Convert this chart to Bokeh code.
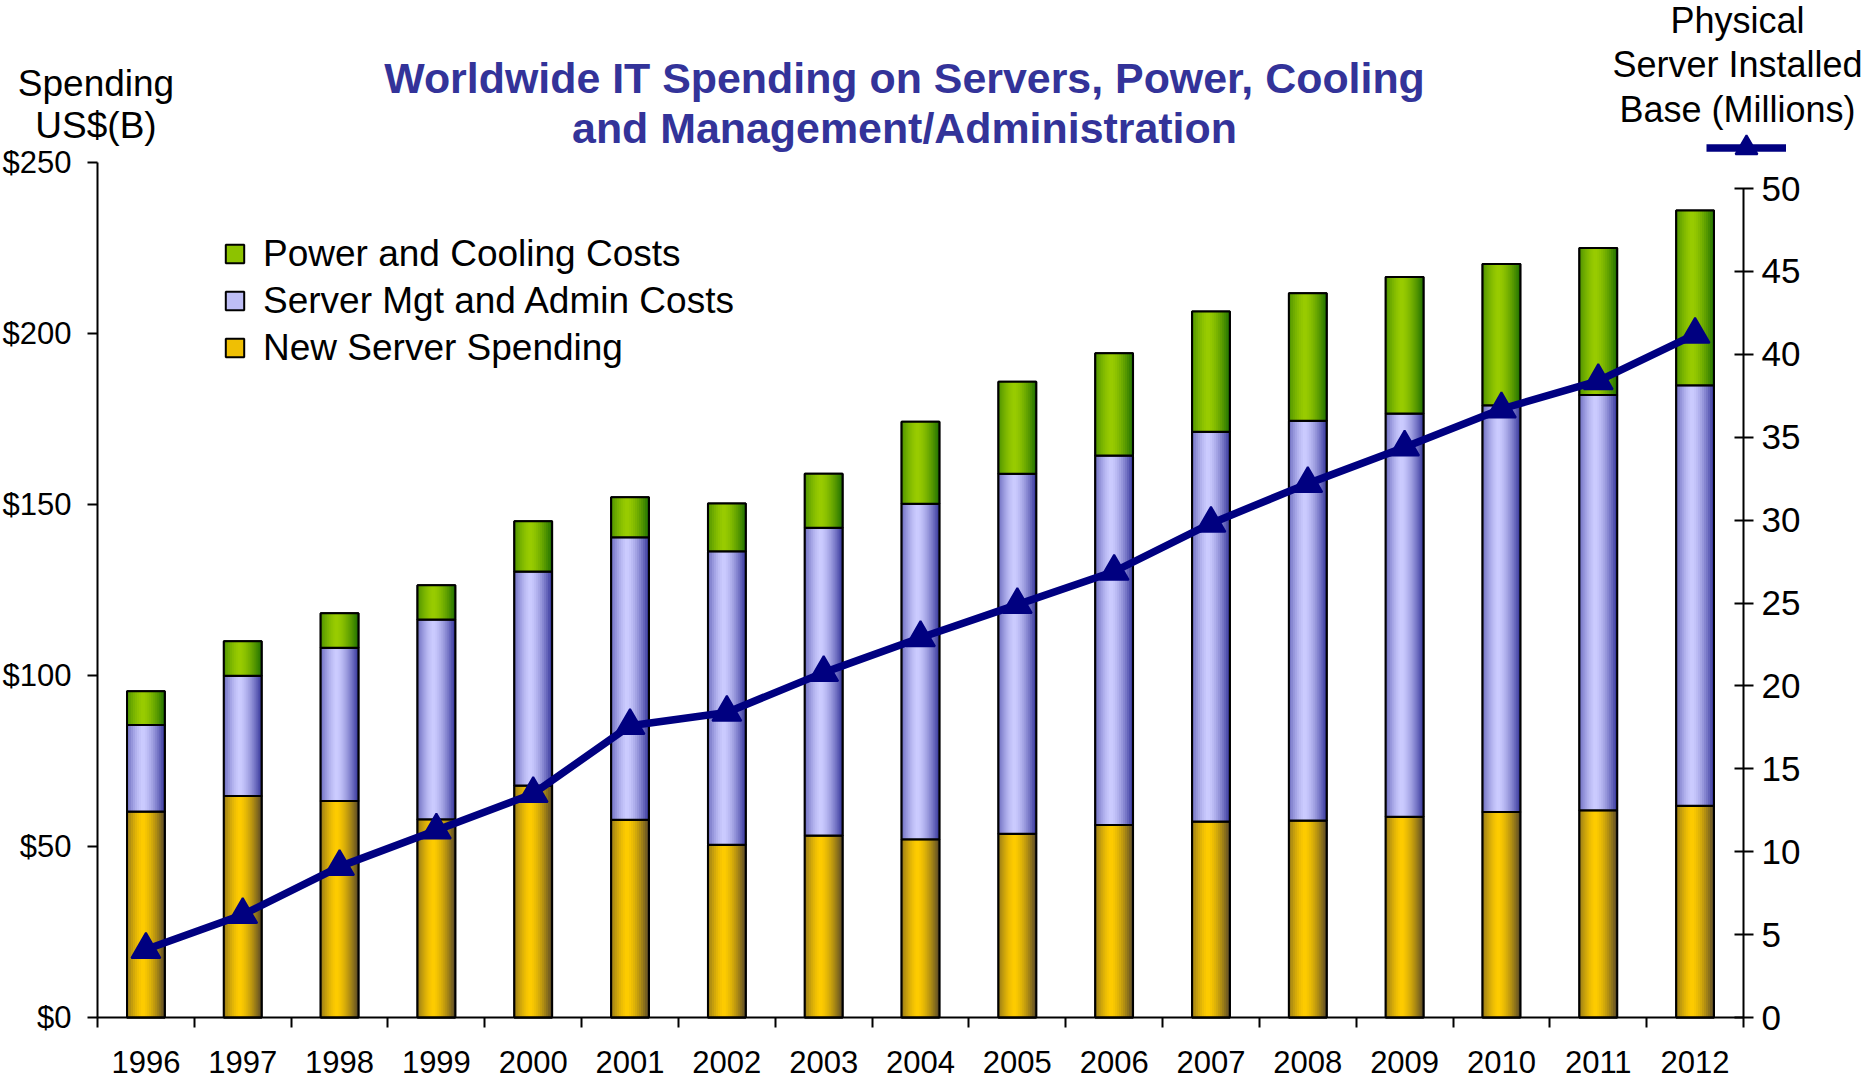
import numpy as np
from bokeh.plotting import figure
from bokeh.models import (Range1d, LinearAxis, FixedTicker, NumeralTickFormatter, Legend,
                          LegendItem, Label)
from bokeh.embed import file_html
from bokeh.resources import INLINE

# ---------------- data ----------------
years = ["1996", "1997", "1998", "1999", "2000", "2001", "2002", "2003", "2004",
         "2005", "2006", "2007", "2008", "2009", "2010", "2011", "2012"]
new_server = [60.2, 64.8, 63.3, 58.0, 67.8, 57.8, 50.5, 53.2, 52.1, 53.7, 56.3, 57.3,
              57.6, 58.7, 60.1, 60.6, 61.9]
mgt_admin = [25.3, 35.1, 44.8, 58.4, 62.6, 82.6, 85.8, 90.0, 98.1, 105.3, 108.0, 114.0,
             116.9, 117.9, 118.9, 121.4, 123.0]
power_cooling = [9.9, 10.1, 10.1, 10.0, 14.7, 11.7, 14.0, 15.8, 24.0, 26.9, 29.9, 35.1,
                 37.3, 39.9, 41.3, 43.0, 51.1]
installed_base = [4.1, 6.2, 9.1, 11.3, 13.5, 17.6, 18.4, 20.8, 22.9, 24.9, 26.9, 29.8,
                  32.2, 34.4, 36.7, 38.4, 41.2]
left_ticks = [0, 50, 100, 150, 200, 250]
right_ticks = [0, 5, 10, 15, 20, 25, 30, 35, 40, 45, 50]
left_max, right_max = 250, 50
series_names = ["New Server Spending", "Server Mgt and Admin Costs", "Power and Cooling Costs"]
legend_order = ["Power and Cooling Costs", "Server Mgt and Admin Costs", "New Server Spending"]
title_lines = ["Worldwide IT Spending on Servers, Power, Cooling",
               "and Management/Administration"]
left_title = ["Spending", "US$(B)"]
right_title = ["Physical", "Server Installed", "Base (Millions)"]

# ---------------- layout / style ----------------
FONT = "Liberation Sans"
W, H = 1870, 1080
AX_L, AX_R = 97, 1743          # pixel positions of left / right value axes
Y0_PX, YTOP_PX = 1017, 162     # pixel of $0 and of $250
R50_PX = 188                   # pixel of right-axis 50
BAR_W = 0.39
NSTRIP = 19
NAVY = "#000080"
TITLE_C = "#333399"
grad = {
    "New Server Spending": ((255, 204, 0), (85, 70, 40)),
    "Server Mgt and Admin Costs": ((204, 204, 255), (51, 51, 153)),
    "Power and Cooling Costs": ((153, 204, 0), (30, 110, 0)),
}

n = len(years)
idx = list(range(n))

# ranges chosen so that the frame fills the whole canvas and the axes sit at fixed places
xpx = (AX_R - AX_L) / n
ypx = (Y0_PX - YTOP_PX) / left_max
rpx = (Y0_PX - R50_PX) / right_max
x_range = Range1d(-0.5 - AX_L / xpx, n - 0.5 + (W - AX_R) / xpx)
y_range = Range1d(-(H - Y0_PX) / ypx, left_max + YTOP_PX / ypx)
r_range = Range1d(-(H - Y0_PX) / rpx, right_max + R50_PX / rpx)

p = figure(width=W, height=H, output_backend="svg", toolbar_location=None, title=None,
           x_range=x_range, y_range=y_range, x_axis_location=None, y_axis_location=None,
           min_border_left=0, min_border_right=0, min_border_top=0, min_border_bottom=0)
p.grid.visible = False
p.outline_line_color = None
p.extra_y_ranges = {"right": r_range}


def mix(c, e, t):
    d = abs(t - 0.42) / 0.58
    m = d ** 1.5
    return "#%02x%02x%02x" % tuple(int(round(a * (1 - m) + b * m)) for a, b in zip(c, e))


bottoms = np.zeros(n)
base_renderers = {}
for name, vals in zip(series_names, [new_server, mgt_admin, power_cooling]):
    vals = np.array(vals, dtype=float)
    tops = bottoms + vals
    cc, ce = grad[name]
    base = p.vbar(x=idx, width=BAR_W, bottom=bottoms, top=tops, fill_color=mix(cc, ce, 0.3),
                  line_color="black", line_width=2)
    base_renderers[name] = base
    L, R, B, T, C = [], [], [], [], []
    sw = BAR_W / NSTRIP
    for i in idx:
        x0 = i - BAR_W / 2
        for k in range(NSTRIP):
            t = (k + 0.5) / NSTRIP
            left = x0 + k * sw
            right = min(i + BAR_W / 2, left + 1.7 * sw)
            L.append(left); R.append(right); B.append(bottoms[i]); T.append(tops[i])
            C.append(mix(cc, ce, t))
    p.quad(left=L, right=R, bottom=B, top=T, fill_color=C, line_color=None)
    p.vbar(x=idx, width=BAR_W, bottom=bottoms, top=tops, fill_color=None,
           line_color="black", line_width=2)
    bottoms = tops

lr = p.line(x=idx, y=installed_base, y_range_name="right", line_color=NAVY, line_width=7.5)
mr = p.scatter(x=idx, y=installed_base, y_range_name="right", marker="triangle", size=29,
               fill_color=NAVY, line_color=NAVY, line_width=2)

# ---------------- axes (fixed inside the full-canvas frame) ----------------
xa = LinearAxis(fixed_location=0, bounds=(-0.5, n - 0.5),
                ticker=FixedTicker(ticks=idx, minor_ticks=[k - 0.5 for k in range(n + 1)]))
xa.major_label_overrides = {i: y for i, y in zip(idx, years)}
xa.major_tick_line_color = None
xa.major_tick_out = 0
xa.major_tick_in = 0
xa.minor_tick_line_color = "black"
xa.minor_tick_line_width = 2
xa.minor_tick_out = 10
xa.minor_tick_in = 0
xa.axis_line_width = 2
xa.major_label_standoff = 23
xa.major_label_text_font = FONT
xa.major_label_text_font_size = "31px"
xa.major_label_text_color = "black"
p.add_layout(xa, "below")

ya = LinearAxis(fixed_location=-0.5, bounds=(0, left_max), ticker=FixedTicker(ticks=left_ticks),
                formatter=NumeralTickFormatter(format="$0"))
ya.major_tick_out = 10
ya.major_tick_in = 0
ya.minor_tick_line_color = None
ya.major_tick_line_width = 2
ya.axis_line_width = 2
ya.major_label_standoff = 16
ya.major_label_text_font = FONT
ya.major_label_text_font_size = "31px"
ya.major_label_text_color = "black"
p.add_layout(ya, "left")

ra = LinearAxis(y_range_name="right", fixed_location=n - 0.5, bounds=(0, right_max),
                ticker=FixedTicker(ticks=right_ticks))
ra.major_tick_out = 10
ra.major_tick_in = 9
ra.minor_tick_line_color = None
ra.major_tick_line_width = 2
ra.axis_line_width = 2
ra.major_label_standoff = 8
ra.major_label_text_font = FONT
ra.major_label_text_font_size = "35px"
ra.major_label_text_color = "black"
p.add_layout(ra, "right")

# ---------------- texts ----------------
def add_text(text, x, y, size, color="black", bold=False):
    p.add_layout(Label(x=x, y=y, x_units="canvas", y_units="canvas", text=text,
                       text_align="center", text_baseline="alphabetic", text_font=FONT,
                       text_font_size=size, text_color=color,
                       text_font_style="bold" if bold else "normal"))


for line, yb in zip(title_lines, [77.5, 127.5]):
    add_text(line, 904, yb, "42.9px", TITLE_C, True)
for line, yb in zip(left_title, [83, 124.5]):
    add_text(line, 95.5, yb, "37px")
for line, yb in zip(right_title, [19.5, 64, 108.5]):
    add_text(line, 1737, yb, "36px")

# ---------------- legends ----------------
leg = Legend(items=[LegendItem(label=nm, renderers=[base_renderers[nm]]) for nm in legend_order],
             location=(223, H - 368.5), orientation="vertical",
             glyph_width=23, glyph_height=23, label_standoff=17, spacing=5,
             padding=0, margin=0, border_line_color=None, background_fill_alpha=0,
             label_text_font=FONT, label_text_font_size="37px", label_text_color="black")
p.add_layout(leg)

key_leg = Legend(items=[LegendItem(label=" ", renderers=[lr, mr])],
                 location=(1706, H - (147 + 27.5)), glyph_width=80, glyph_height=55,
                 label_standoff=0, label_width=0, label_height=0,
                 label_text_font_size="1px", padding=0, margin=0, spacing=0,
                 border_line_color=None, background_fill_alpha=0)
p.add_layout(key_leg)

open("out.html", "w").write(file_html(p, INLINE))
